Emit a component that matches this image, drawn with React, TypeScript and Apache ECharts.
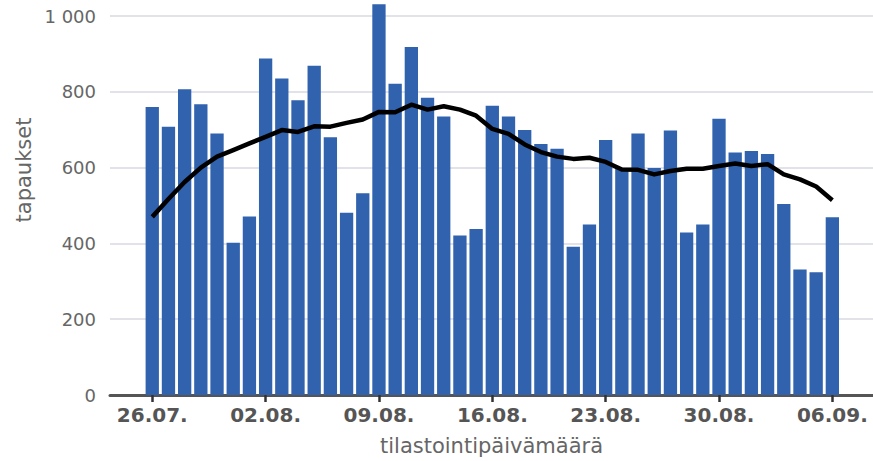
import React, { useEffect, useRef } from "react";
import * as echarts from "echarts";

const dateLabels = ["26.07.", "02.08.", "09.08.", "16.08.", "23.08.", "30.08.", "06.09."];
const labelDays = [0, 7, 14, 21, 28, 35, 42];

const dailyCases = [
  760, 708, 807, 767, 690, 402, 471,
  888, 835, 778, 869, 680, 481, 532,
  1031, 821, 918, 784, 735, 421, 438,
  763, 735, 699, 662, 650, 391, 450,
  673, 599, 690, 599, 698, 429, 450,
  729, 640, 644, 636, 504, 331, 324,
  469,
];

const movingAverage = [
  470, 517, 562, 600, 629, 646, 664,
  681, 699, 694, 709, 708, 718, 727,
  747, 746, 766, 753, 762, 753, 737,
  702, 689, 661, 641, 629, 623, 626,
  615, 595, 594, 582, 591, 597, 597,
  604, 611, 604, 609, 582, 569, 550,
  514,
];

const yTicks = [0, 200, 400, 600, 800, 1000];

export default function App() {
  const ref = useRef<HTMLDivElement>(null);

  useEffect(() => {
    document.body.style.margin = "0";
    const chart = echarts.init(ref.current!, null, { renderer: "svg" });
    const font = "DejaVu Sans";
    chart.setOption({
      animation: false,
      textStyle: { fontFamily: font },
      grid: { left: 110, right: 0, top: 16, bottom: 64.3, containLabel: false },
      xAxis: {
        type: "value",
        min: -2.61,
        max: 44.51,
        name: "tilastointipäivämäärä",
        nameLocation: "middle",
        nameGap: 40,
        nameTextStyle: { fontSize: 21, color: "#666", fontFamily: font },
        axisLine: { show: true, lineStyle: { color: "#555", width: 3 } },
        axisTick: {
          show: true,
          customValues: labelDays,
          length: 7,
          lineStyle: { color: "#333", width: 2.5 },
        },
        axisLabel: {
          customValues: labelDays,
          formatter: (v: number) => dateLabels[labelDays.indexOf(Math.round(v))] ?? "",
          fontSize: 20,
          fontWeight: "bold",
          color: "#555",
          margin: 10,
          fontFamily: font,
        },
        splitLine: { show: false },
      },
      yAxis: {
        type: "value",
        min: 0,
        max: 1000,
        interval: 200,
        axisLine: { show: false },
        axisTick: { show: false },
        axisLabel: {
          fontSize: 18,
          color: "#666",
          margin: 14,
          fontFamily: font,
          formatter: (v: number) => (v >= 1000 ? "1 000" : String(v)),
        },
        splitLine: { lineStyle: { color: "#e2e3e8", width: 2 } },
      },
      graphic: [
        {
          type: "text",
          x: 24,
          y: 170,
          rotation: Math.PI / 2,
          style: {
            text: "tapaukset",
            fontSize: 21,
            fontFamily: font,
            fill: "#666",
            align: "center",
            verticalAlign: "middle",
          },
        },
      ],
      series: [
        {
          type: "bar",
          data: dailyCases.map((v, i) => [i, v]),
          barWidth: 13.3,
          clip: false,
          itemStyle: { color: "#3062ae" },
          z: 2,
        },
        {
          type: "line",
          data: movingAverage.map((v, i) => [i, v]),
          showSymbol: false,
          symbol: "none",
          lineStyle: { color: "#000", width: 4.5, join: "round" },
          z: 3,
        },
      ],
    });
    return () => chart.dispose();
  }, []);

  return <div ref={ref} style={{ width: 873, height: 461 }} />;
}
